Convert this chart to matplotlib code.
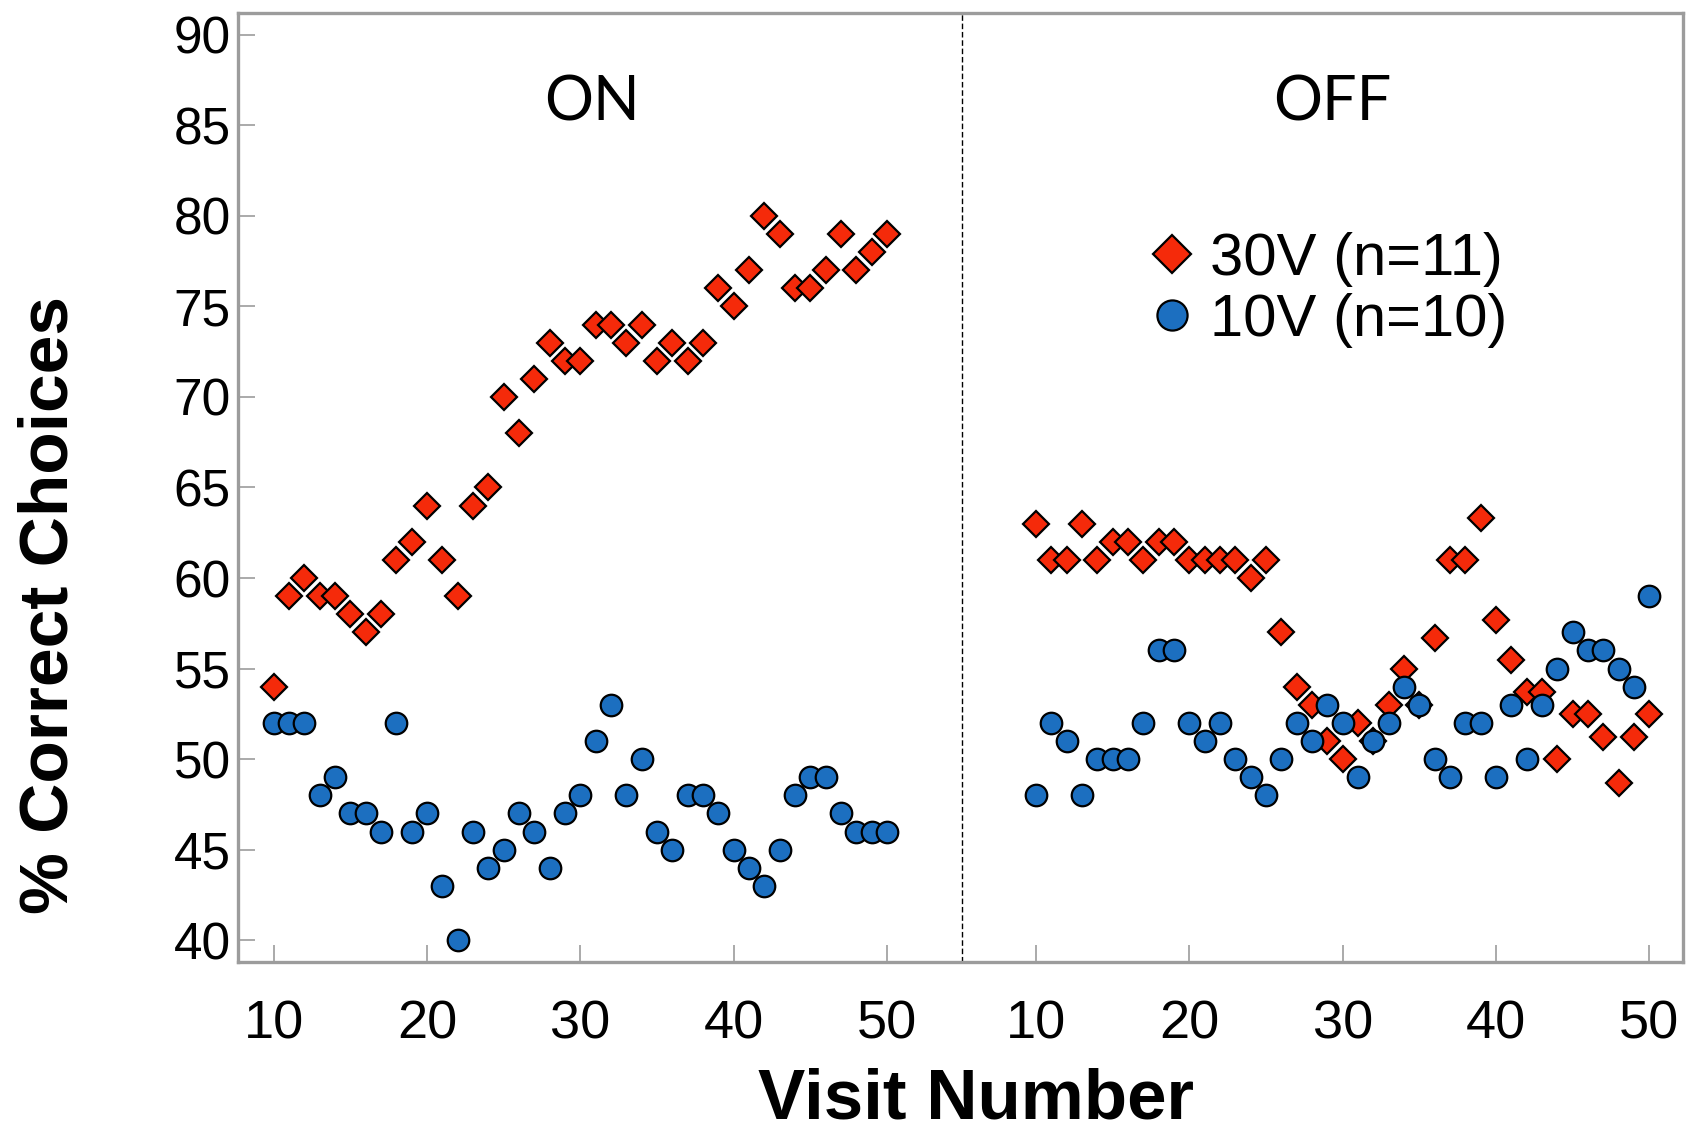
import numpy as np
import matplotlib.pyplot as plt

visits = np.arange(10, 51)

# stimulation ON
on_30v = [54, 59, 60, 59, 59, 58, 57, 58, 61, 62,
          64, 61, 59, 64, 65, 70, 68, 71, 73, 72,
          72, 74, 74, 73, 74, 72, 73, 72, 73, 76,
          75, 77, 80, 79, 76, 76, 77, 79, 77, 78,
          79]
on_10v = [52, 52, 52, 48, 49, 47, 47, 46, 52, 46,
          47, 43, 40, 46, 44, 45, 47, 46, 44, 47,
          48, 51, 53, 48, 50, 46, 45, 48, 48, 47,
          45, 44, 43, 45, 48, 49, 49, 47, 46, 46,
          46]

# stimulation OFF
off_30v = [63, 61, 61, 63, 61, 62, 62, 61, 62, 62,
           61, 61, 61, 61, 60, 61, 57, 54, 53, 51,
           50, 52, 51, 53, 55, 53, 56.7, 61, 61, 63.3,
           57.7, 55.5, 53.7, 53.7, 50, 52.5, 52.5, 51.2, 48.7, 51.2,
           52.5]
off_10v = [48, 52, 51, 48, 50, 50, 50, 52, 56, 56,
           52, 51, 52, 50, 49, 48, 50, 52, 51, 53,
           52, 49, 51, 52, 54, 53, 50, 49, 52, 52,
           49, 53, 50, 53, 55, 57, 56, 56, 55, 54,
           59]

tick_visits = [10, 20, 30, 40, 50]
shift = 49.7  # OFF block is drawn to the right of the ON block

red = "#f52a0a"
blue = "#1c6fc0"
grey = "#9c9c9c"

fig = plt.figure(figsize=(16.95, 11.32), dpi=100)
ax = fig.add_axes([0.1403, 0.1502, 0.8527, 0.8383])

d_kw = dict(marker="D", ms=13.5, mfc=red, mec="black", mew=1.6, ls="none", zorder=3)
o_kw = dict(marker="o", ms=15.5, mfc=blue, mec="black", mew=1.6, ls="none", zorder=4)

ax.plot(visits, on_30v, label="30V (n=11)", **d_kw)
ax.plot(visits, on_10v, label="10V (n=10)", **o_kw)
ax.plot(visits + shift, off_30v, **d_kw)
ax.plot(visits + shift, off_10v, **o_kw)

ax.axvline(54.9, color="black", lw=1.0, ls=(0, (4, 2)), zorder=1)

ax.set_xlim(7.67, 101.9)
ax.set_ylim(38.8, 91.2)

xt = tick_visits + [v + shift for v in tick_visits]
ax.set_xticks(xt)
ax.set_xticklabels([str(v) for v in tick_visits] * 2)
ax.set_yticks(range(40, 91, 5))

ax.tick_params(axis="both", direction="in", color=grey, width=1.2, length=12,
               labelcolor="black")
ax.tick_params(axis="x", labelsize=39, pad=27)
ax.tick_params(axis="y", labelsize=37, pad=5)
for lab in ax.get_xticklabels() + ax.get_yticklabels():
    lab.set_fontfamily("Liberation Sans")

for s in ax.spines.values():
    s.set_color(grey)
    s.set_linewidth(2.4)

ax.set_xlabel("Visit Number", fontsize=51, fontweight="bold",
              family="Liberation Sans", va="center")
ax.xaxis.set_label_coords(0.511, -0.146)
ax.set_ylabel("% Correct Choices", fontsize=50, fontweight="bold",
              family="Liberation Sans", va="center")
ax.yaxis.set_label_coords(-0.130, 0.376)

ax.text(0.2453, 0.9055, "ON", transform=ax.transAxes, ha="center", va="center",
        fontsize=44, family="Lato")
ax.text(0.757, 0.9055, "OFF", transform=ax.transAxes, ha="center", va="center",
        fontsize=44, family="Lato")

leg = ax.legend(loc="upper left", bbox_to_anchor=(0.613, 0.794), frameon=False,
                prop={"family": "Liberation Sans", "size": 43},
                markerscale=1.4, handlelength=0.8, handletextpad=0.25,
                labelspacing=0.1, borderaxespad=0)

fig.savefig("out.png", dpi=100)
